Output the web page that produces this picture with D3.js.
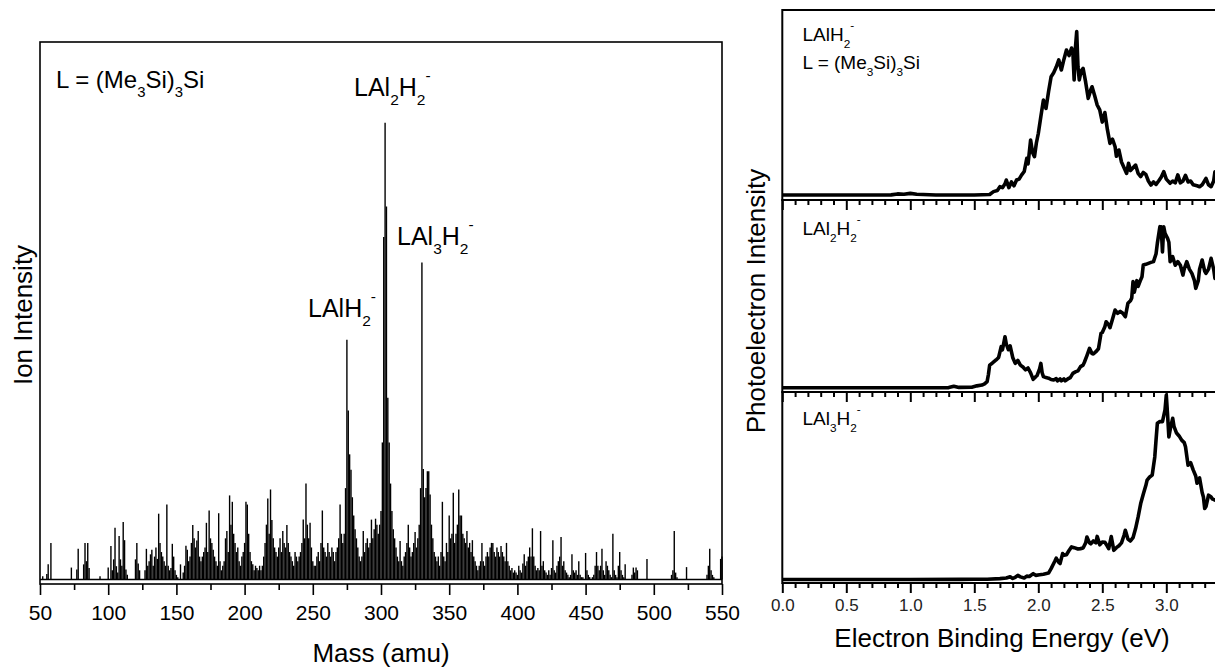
<!DOCTYPE html>
<html>
<head>
<meta charset="utf-8">
<script src="https://cdn.jsdelivr.net/npm/d3@7"></script>
<style>
  body { margin: 0; background: #fff; }
  text { font-family: "Liberation Sans", Arial, sans-serif; }
</style>
</head>
<body>
<div id="my-draw"></div>
<script>
// ---- data: mass spectrum (one value per amu, 50..550, peak = 100) ----
var massStart = 50;
var ionIntensity = [
  0,0,0.7,0,0,1.2,3.3,0,8.0,0,          // 50
  0,0,0,0,0,0,0,0,0,0,                  // 60
  0,0,0,2.6,0,0,0,2.2,6.7,0,            // 70
  0,0,3.3,8.0,4.0,8.0,2.5,0,0,0,        // 80
  0,0,0,0,0.7,0,0,0,0,0,                // 90
  2.6,0,7.3,2,4.4,11.3,2.9,1.5,9.5,4.4, // 100
  3,12.6,8.6,2.2,1,0,0,0,0,0,           // 110
  4.4,8.0,3.5,2,0,0,0,2,6.7,3,          // 120
  4,5.5,6.5,3,5,7,4.5,14.4,8,6,         // 130
  5,4,3,16.4,3,2,2.5,7.8,5,2,           // 140
  1,0.5,0,3.3,0,1.5,3,7.4,6.5,4,        // 150
  5,8,11.9,9,7,8.5,10.6,5,4,5,          // 160
  6,7,12.4,6,15.1,9,8,6.5,5,4,          // 170
  3,14.5,4,2,3,4,9,10.6,6,18.4,         // 180
  12,17,10,8,6,7,4,3,5,6,               // 190
  8,17,16.4,10,6,4,3.3,2,3,2.5,         // 200
  2,3,2,3,5,8,12,17.7,10,19.7,          // 210
  13,9,7,6,5,7,9,6,10.6,8,              // 220
  7,11.9,8,6,5,4,3,6,5,4,               // 230
  5,6,8,13.1,9,21,12,9,12.4,7,          // 240
  4,3,3,5,6,4,8,15.1,7,6,               // 250
  5,8,6,5,7,6,4,6,7,9,                  // 260
  16.4,10,8,10,20,52.5,37,27.4,24,18,   // 270
  14,11,9,7,5,4,5,10.6,6,8,             // 280
  9,7,8,13.1,9,11,13.3,12,10,12,        // 290
  15,30,75,100,81.7,39.8,30,21,15,11,   // 300
  9,7,5,4,8.4,4,3,5,6,8,                // 310
  12,7,5,6,8,10.4,7,9,12,20,            // 320
  69.4,24.2,18,20,23.7,23.7,18.6,12,9,6,// 330
  5,4,5,3,6,17,5,4,8,6,                 // 340
  14,9,10,19,8,10,12,19.7,14,14,        // 350
  10,9,8,10.6,7,8,6,8.6,5,4,            // 360
  3,2,3,4,8,4,3,5,6,5,                  // 370
  7,8,8,6,5,7,6,5,7.3,6,                // 380
  5,4,8,4,3,2,2.5,1.5,2,1.5,            // 390
  1,3,2,1.5,3.5,5.5,3,4,5,7,            // 400
  5,11.2,5,3,2,2.5,2,10.6,3,4,          // 410
  2,1.5,1,2,1,2.5,8.6,2,1.5,3,          // 420
  4,5,9.3,3,4,2,1.5,1,0.5,1,            // 430
  5.5,2,1.5,2,1,4,1,0.5,0.5,0,          // 440
  5.8,2,1,0.5,0,0.5,1,3,6,3,            // 450
  2,3,6.7,2,1,4,3,2,1,0.5,              // 460
  10,2,1,0.5,3,6,2,1,0.5,3.3,           // 470
  0,0,0,0,1,2.6,1.5,2.6,2,0,            // 480
  0,0,0,0,0,4.5,0,0,0,0,                // 490
  0,0,0,0,0,0,0,0,0,0,                  // 500
  0,0,0,1,2,10.6,1.5,0.5,0,0,           // 510
  0,0,0,0,2.7,0,0,0,0,0,                // 520
  0,0,0,0,0,0,0,0,0,1,                  // 530
  3,6.7,2,1,0.5,0,0,0,0,4.5,            // 540
  5                                      // 550
];
var massTicks = [50,100,150,200,250,300,350,400,450,500,550];

// ---- data: photoelectron spectra [binding energy (eV), intensity] ----
var pesLAlH2 = [[0,2.6],[0.3,2.6],[0.85,2.7],[0.9,3.2],[0.95,3.0],[1.0,3.5],[1.05,3.0],[1.2,2.6],[1.5,2.6],[1.62,2.9],[1.65,4.4],[1.68,5.0],[1.70,7.0],[1.72,6.5],[1.74,8.5],[1.75,10.5],[1.77,6.5],[1.79,9.5],[1.81,7.5],[1.83,10.5],[1.85,11],[1.87,13.2],[1.89,15],[1.91,21.9],[1.92,19],[1.94,31.6],[1.955,25],[1.97,22.8],[1.985,30],[2.0,35],[2.02,44],[2.04,52.6],[2.05,50],[2.06,48.2],[2.08,57],[2.10,64.9],[2.12,67],[2.14,70],[2.16,73.7],[2.18,68.4],[2.20,74],[2.22,78.9],[2.24,76],[2.26,80],[2.27,78],[2.28,63.2],[2.29,80],[2.30,88.6],[2.31,70],[2.32,63.2],[2.335,68],[2.35,69.3],[2.37,62],[2.39,53.5],[2.41,58],[2.42,59.6],[2.44,55],[2.46,50],[2.48,47.4],[2.50,41],[2.52,46],[2.54,37],[2.56,29.8],[2.58,32],[2.60,28],[2.61,23],[2.63,26.3],[2.65,20],[2.67,17],[2.69,14],[2.705,19.3],[2.72,15.5],[2.74,17],[2.76,18.4],[2.78,14],[2.80,12.3],[2.82,14.5],[2.84,13.5],[2.86,10],[2.88,7.9],[2.90,9.5],[2.92,8.2],[2.94,10],[2.96,12],[2.98,14.9],[3.00,11],[3.03,8.8],[3.05,10],[3.07,9],[3.09,13.2],[3.11,9],[3.13,10],[3.15,13],[3.17,9.5],[3.19,10],[3.21,8],[3.24,7.5],[3.26,7],[3.28,8],[3.31,11.4],[3.33,8],[3.35,7],[3.37,10],[3.38,14.9],[3.40,12]];

var pesLAl2H2 = [[0,2.2],[0.5,2.2],[1.0,2.2],[1.3,2.3],[1.34,3.0],[1.38,2.4],[1.48,2.5],[1.52,3.2],[1.56,3.6],[1.58,4.2],[1.60,5.4],[1.61,9],[1.62,14],[1.64,15],[1.67,16.7],[1.69,18],[1.71,23.6],[1.72,22],[1.74,28.8],[1.75,25],[1.766,22],[1.78,24],[1.79,21],[1.80,18],[1.82,14.9],[1.84,16.5],[1.86,14],[1.88,13],[1.90,11.5],[1.92,12.5],[1.94,10],[1.96,6.6],[1.98,8],[1.99,8.5],[2.01,12],[2.02,14.9],[2.03,10],[2.04,8],[2.06,7.5],[2.08,7.2],[2.10,6.5],[2.12,6.25],[2.14,7],[2.15,5.8],[2.17,6.8],[2.18,5.8],[2.20,6.8],[2.21,5.8],[2.23,6.8],[2.25,7.5],[2.27,9.7],[2.29,10.5],[2.31,11],[2.33,13.2],[2.35,14],[2.36,15.5],[2.38,19],[2.40,22.7],[2.42,20],[2.43,19.8],[2.45,21],[2.47,22.5],[2.49,30.6],[2.50,31],[2.52,34],[2.53,36.6],[2.55,35],[2.56,33.5],[2.58,38],[2.60,42.7],[2.62,41],[2.64,42],[2.66,41],[2.68,39.2],[2.70,46.2],[2.72,47.5],[2.73,49],[2.74,57.5],[2.75,52],[2.77,58],[2.78,55],[2.80,58.5],[2.81,60],[2.82,66.1],[2.84,66.5],[2.86,67],[2.88,67.5],[2.90,67.9],[2.92,72],[2.93,77.4],[2.95,86.1],[2.96,86],[2.97,73],[2.98,86],[2.99,82.6],[3.01,80],[3.02,78],[3.03,67.9],[3.05,70.5],[3.07,66],[3.09,67.9],[3.11,66],[3.13,60.9],[3.14,64],[3.16,67.9],[3.18,64],[3.20,61.8],[3.22,58],[3.23,54],[3.25,58],[3.26,64],[3.28,68.75],[3.30,63],[3.31,61.8],[3.33,64],[3.35,69.6],[3.37,64],[3.38,59.2],[3.40,62]];

var pesLAl3H2 = [[0,1.8],[0.5,1.8],[1.0,1.8],[1.4,1.9],[1.5,2.0],[1.6,2.0],[1.70,2.3],[1.75,2.6],[1.78,3.3],[1.80,2.4],[1.82,3.0],[1.84,4.0],[1.86,3.2],[1.89,2.6],[1.91,3.6],[1.93,3.4],[1.96,4.9],[1.98,4.0],[2.01,4.3],[2.04,4.6],[2.08,5.2],[2.10,7.5],[2.12,10.2],[2.13,11.5],[2.14,13],[2.16,10.8],[2.17,10.2],[2.19,15.4],[2.20,14.5],[2.22,14.8],[2.24,17],[2.26,18.9],[2.28,18.5],[2.31,17.8],[2.33,18],[2.35,18.3],[2.37,21],[2.38,24.1],[2.40,21],[2.41,20.5],[2.43,22],[2.45,21],[2.46,24.4],[2.48,20],[2.50,21.5],[2.52,21.3],[2.54,19.2],[2.55,18],[2.57,24.3],[2.59,17.1],[2.61,18.5],[2.63,19.5],[2.65,21],[2.67,25],[2.68,27.6],[2.70,23],[2.72,22],[2.74,23.7],[2.76,28.5],[2.78,34.6],[2.80,41.6],[2.82,46.5],[2.84,51],[2.85,53.9],[2.87,55.5],[2.89,56.5],[2.91,66],[2.92,75],[2.93,83.6],[2.95,84.5],[2.97,84.5],[2.99,90.6],[3.00,98.4],[3.01,88],[3.02,76.5],[3.035,82],[3.05,86.2],[3.06,82],[3.08,78.5],[3.10,77],[3.12,74.8],[3.14,73.5],[3.15,71.3],[3.17,61.7],[3.19,63],[3.21,59.2],[3.23,56],[3.24,52.3],[3.26,55],[3.28,47.4],[3.29,45],[3.30,39],[3.31,40],[3.33,46],[3.35,45],[3.36,44],[3.38,43.4],[3.40,44]];

// 3.5 falls past the right edge of the picture, so it is left out
var pesMajorTicks = [0,0.5,1.0,1.5,2.0,2.5,3.0];
var pesMinorTicks = [0.1,0.2,0.3,0.4,0.6,0.7,0.8,0.9,1.1,1.2,1.3,1.4,1.6,1.7,1.8,1.9,2.1,2.2,2.3,2.4,2.6,2.7,2.8,2.9,3.1,3.2,3.3,3.4];

var width = 1215, height = 669;

var svg = d3.select("#my-draw")
  .append("svg")
  .attr("width", width)
  .attr("height", height)
  .style("display", "block");

// writes chemical formulas: "_x" subscript, "^x" superscript
function chem(sel, x, y, str, size) {
  var t = sel.append("text").attr("x", x).attr("y", y).attr("font-size", size).attr("fill", "#000");
  var shift = 0, i = 0;
  while (i < str.length) {
    var c = str[i];
    if (c === "_" || c === "^") {
      var target = c === "_" ? size * 0.37 : -size * 0.62;
      t.append("tspan").attr("dy", target - shift).attr("font-size", size * 0.62).text(str[i + 1]);
      shift = target;
      i += 2;
    } else {
      var j = i;
      while (j < str.length && str[j] !== "_" && str[j] !== "^") j++;
      t.append("tspan").attr("dy", -shift).text(str.slice(i, j));
      shift = 0;
      i = j;
    }
  }
  return t;
}

// ================= left: mass spectrum =================
var left = {x0: 40, x1: 722, y0: 42, y1: 584};

var x = d3.scaleLinear().domain([50, 550]).range([left.x0, left.x1]);
var y = d3.scaleLinear().domain([-1, 117.7]).range([left.y1, left.y0]);

var ionData = ionIntensity.map(function (v, i) {
  return {mass: massStart + i, value: v};
}).filter(function (d) { return d.value > 0; });

svg.append("g")
  .attr("class", "sticks")
  .selectAll("line")
  .data(ionData)
  .enter()
  .append("line")
  .attr("x1", function (d) { return x(d.mass); })
  .attr("x2", function (d) { return x(d.mass); })
  .attr("y1", y(0))
  .attr("y2", function (d) { return y(d.value); })
  .attr("stroke", "#000")
  .attr("stroke-width", 1.4);

svg.append("line")
  .attr("x1", x(50)).attr("x2", x(550))
  .attr("y1", y(0)).attr("y2", y(0))
  .attr("stroke", "#000").attr("stroke-width", 1.4);

svg.append("rect")
  .attr("x", left.x0).attr("y", left.y0)
  .attr("width", left.x1 - left.x0).attr("height", left.y1 - left.y0)
  .attr("fill", "none").attr("stroke", "#000").attr("stroke-width", 1.6);

var xAxis = svg.append("g")
  .attr("transform", "translate(0," + left.y1 + ")")
  .call(d3.axisBottom(x).tickValues(massTicks).tickSize(11).tickPadding(10));
xAxis.select(".domain").remove();
xAxis.selectAll("line").attr("stroke-width", 1.6);
xAxis.selectAll("text").attr("font-size", 21).attr("font-family", "Liberation Sans, Arial, sans-serif").attr("fill", "#000");

var xMinor = svg.append("g")
  .attr("transform", "translate(0," + left.y1 + ")")
  .call(d3.axisBottom(x).tickValues(d3.range(75, 550, 50)).tickSize(6).tickFormat(""));
xMinor.select(".domain").remove();
xMinor.selectAll("line").attr("stroke-width", 1.6);

svg.append("text")
  .attr("x", 381).attr("y", 662)
  .attr("text-anchor", "middle").attr("font-size", 26)
  .text("Mass (amu)");

svg.append("text")
  .attr("transform", "translate(32,315) rotate(-90)")
  .attr("text-anchor", "middle").attr("font-size", 26)
  .text("Ion Intensity");

chem(svg, 56, 88, "L = (Me_3Si)_3Si", 24);
chem(svg, 354, 96, "LAl_2H_2^-", 25);
chem(svg, 397, 245, "LAl_3H_2^-", 25);
chem(svg, 308, 317, "LAlH_2^-", 25);

// ================= right: photoelectron spectra =================
var xe = d3.scaleLinear().domain([0, 3.5]).range([782.3, 782.3 + 448]);

var panels = [
  {data: pesLAlH2, top: 10, bottom: 200, label: "LAlH_2^-", ly: 41},
  {data: pesLAl2H2, top: 200, bottom: 392, label: "LAl_2H_2^-", ly: 235},
  {data: pesLAl3H2, top: 392, bottom: 583, label: "LAl_3H_2^-", ly: 425}
];

panels.forEach(function (p, i) {
  var yp = d3.scaleLinear().domain([0, 100]).range([p.bottom, p.top]);

  var g = svg.append("g").attr("class", "panel-" + i);

  g.append("path")
    .datum(p.data)
    .attr("fill", "none")
    .attr("stroke", "#000")
    .attr("stroke-width", 3.6)
    .attr("stroke-linejoin", "round")
    .attr("d", d3.line()
      .x(function (d) { return xe(d[0]); })
      .y(function (d) { return yp(d[1]); }));

  g.append("rect")
    .attr("x", xe(0)).attr("y", p.top)
    .attr("width", 480).attr("height", p.bottom - p.top)
    .attr("fill", "none").attr("stroke", "#000").attr("stroke-width", 2);

  var ax = g.append("g")
    .attr("transform", "translate(0," + p.bottom + ")")
    .call(d3.axisBottom(xe).tickValues(pesMajorTicks).tickSize(10).tickPadding(6)
      .tickFormat(i === 2 ? d3.format(".1f") : ""));
  ax.select(".domain").remove();
  ax.selectAll("line").attr("stroke-width", 2);
  ax.selectAll("text").attr("font-size", 17).attr("font-family", "Liberation Sans, Arial, sans-serif").attr("fill", "#222");

  var axm = g.append("g")
    .attr("transform", "translate(0," + p.bottom + ")")
    .call(d3.axisBottom(xe).tickValues(pesMinorTicks).tickSize(5).tickFormat(""));
  axm.select(".domain").remove();
  axm.selectAll("line").attr("stroke-width", 2);

  chem(g, 802.5, p.ly, p.label, 19);
});

chem(svg, 802.5, 69, "L = (Me_3Si)_3Si", 19);

svg.append("text")
  .attr("x", 1002).attr("y", 647)
  .attr("text-anchor", "middle").attr("font-size", 26)
  .text("Electron Binding Energy (eV)");

svg.append("text")
  .attr("transform", "translate(765,301) rotate(-90)")
  .attr("text-anchor", "middle").attr("font-size", 26)
  .text("Photoelectron Intensity");
</script>
</body>
</html>
